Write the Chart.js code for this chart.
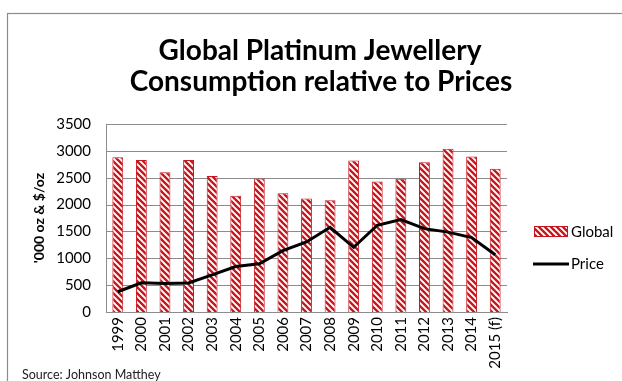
<!DOCTYPE html>
<html>
<head>
<meta charset="utf-8">
<script src="https://cdn.jsdelivr.net/npm/chart.js@4.4.1/dist/chart.umd.min.js"></script>
<style>
  html, body { margin: 0; padding: 0; background: #ffffff; }
  #wrap { position: relative; width: 622px; height: 381px; }
</style>
</head>
<body>
<div id="wrap"><canvas id="chart" width="622" height="381"></canvas></div>
<script>
// Platinum jewellery demand ('000 oz) and average price ($/oz), 1999–2015 forecast
const years = ['1999', '2000', '2001', '2002', '2003', '2004', '2005', '2006', '2007',
               '2008', '2009', '2010', '2011', '2012', '2013', '2014', '2015 (f)'];
const globalDemand = [2880, 2830, 2600, 2830, 2530, 2165, 2485, 2210, 2115,
                      2080, 2820, 2430, 2480, 2790, 3040, 2895, 2665];
const price = [377, 545, 530, 540, 692, 846, 897, 1142, 1305,
               1576, 1204, 1615, 1721, 1552, 1487, 1385, 1065];
const yTicks = [0, 500, 1000, 1500, 2000, 2500, 3000, 3500];

const titleLines = ['Global Platinum Jewellery', 'Consumption relative to Prices'];
const sourceNote = 'Source: Johnson Matthey';

const RED = '#c8161d';
const GRID = '#8c8c8c';
const FONT = 'Lato, "Open Sans", sans-serif';

// Diagonal hatch used for the demand bars
function makeHatch() {
  const s = 6;
  const c = document.createElement('canvas');
  c.width = s; c.height = s;
  const g = c.getContext('2d');
  g.fillStyle = '#ffffff';
  g.fillRect(0, 0, s, s);
  g.strokeStyle = RED;
  g.lineWidth = 2.3;
  g.beginPath();
  for (let k = -1; k <= 1; k++) {
    g.moveTo(k * s - 1, -1);
    g.lineTo(k * s + s + 1, s + 1);
  }
  g.stroke();
  return g.createPattern(c, 'repeat');
}

const ctx = document.getElementById('chart').getContext('2d');
const hatch = makeHatch();

// Horizontal value gridlines, placed through the y scale
const valueGrid = {
  id: 'valueGrid',
  beforeDatasetsDraw(chart) {
    const g = chart.ctx;
    const y = chart.scales.y;
    const { left, right } = chart.chartArea;
    g.save();
    g.strokeStyle = GRID;
    g.lineWidth = 1;
    g.beginPath();
    y.ticks.forEach(t => {
      const py = Math.round(y.getPixelForValue(t.value)) + 0.5;
      g.moveTo(left, py);
      g.lineTo(right, py);
    });
    g.stroke();
    g.restore();
  }
};

// Frame, title, legend and source line
const decorations = {
  id: 'decorations',
  beforeDraw(chart) {
    const g = chart.ctx;
    g.save();
    g.strokeStyle = GRID;
    g.lineWidth = 1.2;
    g.strokeRect(7.5, 13.5, 700, 500);
    g.restore();
  },
  afterDraw(chart) {
    const g = chart.ctx;
    g.save();
    g.fillStyle = '#000000';
    g.textAlign = 'center';
    g.textBaseline = 'alphabetic';
    g.font = 'bold 28px ' + FONT;
    g.fillText(titleLines[0], 320, 60);
    g.fillText(titleLines[1], 321, 91);

    // legend
    const ds = chart.data.datasets;
    g.textAlign = 'left';
    g.font = '15px ' + FONT;
    g.fillStyle = hatch;
    g.fillRect(534, 226, 34, 11);
    g.strokeStyle = RED;
    g.lineWidth = 1;
    g.strokeRect(534.5, 226.5, 33, 10);
    g.fillStyle = '#000000';
    g.fillText(ds[0].label, 571, 237);

    g.strokeStyle = '#000000';
    g.lineWidth = 3;
    g.beginPath();
    g.moveTo(533, 264);
    g.lineTo(569, 264);
    g.stroke();
    g.fillText(ds[1].label, 571, 269);

    g.font = '12.5px ' + FONT;
    g.fillStyle = '#222222';
    g.fillText(sourceNote, 22, 379);
    g.restore();
  }
};

new Chart(ctx, {
  type: 'bar',
  data: {
    labels: years,
    datasets: [
      {
        type: 'bar',
        label: 'Global',
        data: globalDemand,
        backgroundColor: hatch,
        borderColor: RED,
        borderWidth: 1,
        barPercentage: 0.46,
        categoryPercentage: 1.0,
        order: 2
      },
      {
        type: 'line',
        label: 'Price',
        data: price,
        borderColor: '#000000',
        borderWidth: 3,
        pointRadius: 0,
        tension: 0,
        fill: false,
        order: 1
      }
    ]
  },
  options: {
    responsive: false,
    animation: false,
    layout: { padding: { top: 124, right: 115, bottom: 0, left: 0 } },
    plugins: {
      legend: { display: false },
      title: { display: false },
      tooltip: { enabled: false }
    },
    scales: {
      x: {
        grid: { display: false, drawOnChartArea: false, drawTicks: false },
        border: { display: true, color: GRID, width: 1 },
        ticks: {
          color: '#000000',
          font: { family: FONT, size: 15 },
          maxRotation: 90,
          minRotation: 90,
          autoSkip: false,
          padding: 5
        },
        afterFit(scale) { scale.height = 69; }
      },
      y: {
        min: 0,
        max: 3500,
        afterBuildTicks(scale) { scale.ticks = yTicks.map(v => ({ value: v })); },
        grid: { display: false, drawTicks: false },
        border: { color: GRID, width: 1 },
        ticks: {
          color: '#000000',
          font: { family: FONT, size: 15 },
          padding: 15,
          callback: (v) => String(v)
        },
        title: {
          display: true,
          text: "'000 oz & $/oz",
          color: '#000000',
          font: { family: FONT, size: 14, weight: 'bold' },
          padding: { top: 31, bottom: 0 }
        },
        afterFit(scale) { scale.width = 106; }
      }
    }
  },
  plugins: [valueGrid, decorations]
});
</script>
</body>
</html>
